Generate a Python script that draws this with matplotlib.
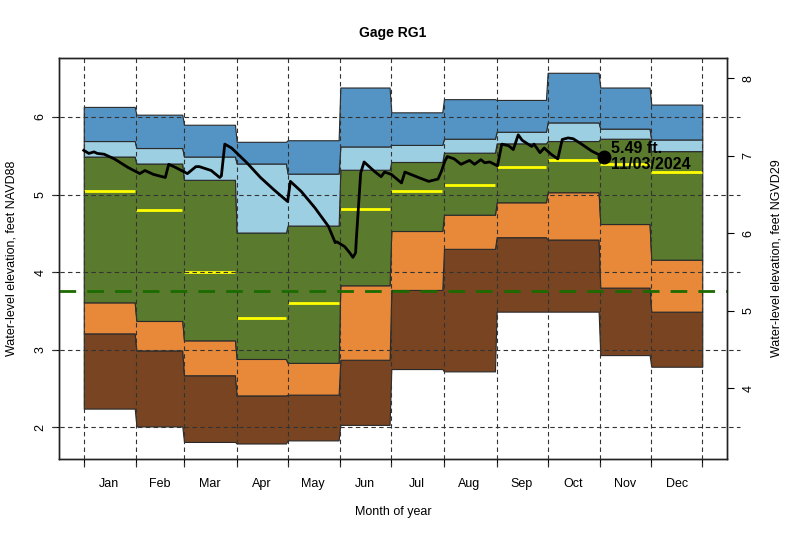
import matplotlib
matplotlib.use('Agg')
import matplotlib.pyplot as plt
import matplotlib.transforms as mtransforms
import numpy as np

plt.rcParams['font.family'] = ['Liberation Sans', 'DejaVu Sans']

# monthly statistics, feet NAVD88
months = ['Jan', 'Feb', 'Mar', 'Apr', 'May', 'Jun', 'Jul', 'Aug', 'Sep', 'Oct', 'Nov', 'Dec']
month_start = [1, 32, 60, 91, 121, 152, 182, 213, 244, 274, 305, 335]
month_end = [31, 59, 90, 120, 151, 181, 212, 243, 273, 304, 334, 365]
lev_max = [6.13, 6.03, 5.90, 5.68, 5.70, 6.38, 6.06, 6.23, 6.22, 6.57, 6.38, 6.16]
lev_90 = [5.69, 5.60, 5.49, 5.40, 5.27, 5.62, 5.64, 5.72, 5.81, 5.93, 5.85, 5.71]
lev_75 = [5.49, 5.40, 5.19, 4.51, 4.60, 5.32, 5.42, 5.54, 5.66, 5.69, 5.72, 5.56]
lev_25 = [3.61, 3.37, 3.12, 2.88, 2.83, 3.83, 4.53, 4.74, 4.90, 5.03, 4.62, 4.16]
lev_10 = [3.21, 2.99, 2.67, 2.41, 2.42, 2.87, 3.77, 4.30, 4.45, 4.42, 3.80, 3.49]
lev_min = [2.24, 2.01, 1.81, 1.79, 1.83, 2.03, 2.75, 2.72, 3.49, 3.49, 2.93, 2.78]
lev_med = [5.05, 4.80, 4.00, 3.41, 3.60, 4.82, 5.04, 5.12, 5.36, 5.44, 5.39, 5.29]

# current year daily water level (day of year, feet NAVD88)
wl_day = [1, 4, 7, 9, 13, 19, 27, 34, 37, 42, 49, 51, 55, 62, 67, 69, 76, 81, 82,
          84, 88, 97, 105, 113, 121, 122.6, 129, 137, 145, 149, 150, 154.5, 157.5,
          159.4, 161, 161.4, 164, 166, 172, 176, 178, 182, 188, 190, 198, 204,
          209.5, 211.5, 213.5, 215, 219, 223, 228, 231, 234.7, 237, 240, 244.5,
          247, 251, 253.8, 256.7, 259, 264.6, 266, 269.5, 272, 276, 280, 282.6,
          286, 289, 294, 300, 305.5, 307]
wl_val = [5.57, 5.53, 5.55, 5.53, 5.52, 5.46, 5.35, 5.27, 5.31, 5.26, 5.22, 5.39,
          5.35, 5.27, 5.36, 5.36, 5.31, 5.22, 5.24, 5.65, 5.60, 5.41, 5.22, 5.06,
          4.91, 5.17, 5.04, 4.83, 4.59, 4.38, 4.39, 4.33, 4.25, 4.19, 4.25, 4.42,
          5.28, 5.42, 5.30, 5.23, 5.29, 5.26, 5.15, 5.29, 5.22, 5.17, 5.20, 5.30,
          5.43, 5.49, 5.46, 5.39, 5.44, 5.39, 5.45, 5.41, 5.42, 5.37, 5.65, 5.63,
          5.58, 5.77, 5.70, 5.62, 5.65, 5.54, 5.60, 5.52, 5.46, 5.71, 5.73, 5.72,
          5.65, 5.56, 5.50, 5.49]
last_day = 307
last_val = 5.49
last_date = '11/03/2024'
ref_level = 3.76
datum_shift = 1.5

fig = plt.figure(figsize=(8, 5.33), dpi=100)
ax = fig.add_axes([0.07375, 0.1388, 0.835, 0.7523])

# step-like x for the monthly bands
xs = []
for s, e in zip(month_start, month_end):
    xs += [s, e]

def expand(v):
    out = []
    for a in v:
        out += [a, a]
    return out

bands = [(lev_min, lev_10, '#784421'),
         (lev_10, lev_25, '#E8893A'),
         (lev_25, lev_75, '#5A7A2E'),
         (lev_75, lev_90, '#9DCFE3'),
         (lev_90, lev_max, '#5494C4')]
for lo, hi, col in bands:
    ax.fill_between(xs, expand(lo), expand(hi), facecolor=col,
                    edgecolor='#2a2a2a', linewidth=0.8, zorder=1)

for s, e, m in zip(month_start, month_end, lev_med):
    ax.plot([s, e], [m, m], color='#FFFF00', lw=2, zorder=2, solid_capstyle='butt')

# dashed grid lines running a bit outside the plot box
tr_h = mtransforms.blended_transform_factory(ax.transAxes, ax.transData)
for y in [2, 3, 4, 5, 6]:
    ax.plot([-0.011, 1.019], [y, y], transform=tr_h, color='#333333', lw=0.8,
            ls=(0, (4, 3)), clip_on=False, zorder=3)
tr_v = mtransforms.blended_transform_factory(ax.transData, ax.transAxes)
for x in month_start + [365]:
    ax.plot([x, x], [-0.02, 1.0], transform=tr_v, color='#333333', lw=0.8,
            ls=(0, (4, 3)), clip_on=False, zorder=3)

ax.axhline(ref_level, color='#1B6B00', lw=2, ls=(0, (6, 4)), zorder=4)

ax.plot(wl_day, wl_val, color='black', lw=2, zorder=5)
ax.plot([last_day], [last_val], 'o', color='black', ms=9, zorder=6)
ax.text(last_day + 4, last_val + 0.11, f'{last_val:.2f} ft.', fontsize=11.5,
        fontweight='bold', ha='left', va='center', zorder=7)
ax.text(last_day + 4, last_val - 0.10, last_date, fontsize=11.5,
        fontweight='bold', ha='left', va='center', zorder=7)

ax.set_xlim(1 - 0.04 * 364, 365 + 0.04 * 364)
ax.set_ylim(1.59, 6.76)

ax.set_xticks(month_start + [365])
ax.set_xticklabels([])
mids = [(s + e) / 2 for s, e in zip(month_start, month_end)]
ax.set_xticks(mids, minor=True)
ax.set_xticklabels(months, minor=True, fontsize=9)
ax.tick_params(axis='x', which='minor', length=0, pad=14)
ax.tick_params(axis='x', which='major', length=5, width=0.8)

ax.set_yticks([2, 3, 4, 5, 6])
ax.set_yticklabels(['2', '3', '4', '5', '6'], rotation=90, va='center', fontsize=9)
ax.tick_params(axis='y', length=5, width=0.8, pad=4)

ax2 = ax.twinx()
ax2.set_ylim(1.59 + datum_shift, 6.76 + datum_shift)
ax2.set_yticks([4, 5, 6, 7, 8])
ax2.set_yticklabels(['4', '5', '6', '7', '8'], rotation=90, va='center', fontsize=9)
ax2.tick_params(axis='y', length=5, width=0.8, pad=6)

for a in (ax, ax2):
    for sp in a.spines.values():
        sp.set_linewidth(1)
        sp.set_color('#222222')

ax.set_ylabel('Water-level elevation, feet NAVD88', fontsize=9, labelpad=12)
ax2.set_ylabel('Water-level elevation, feet NGVD29', fontsize=9, labelpad=12)
ax.set_xlabel('Month of year', fontsize=9, labelpad=11)
ax.set_title('Gage RG1', fontsize=10, fontweight='bold', pad=15)

fig.savefig('out.png', dpi=100)
